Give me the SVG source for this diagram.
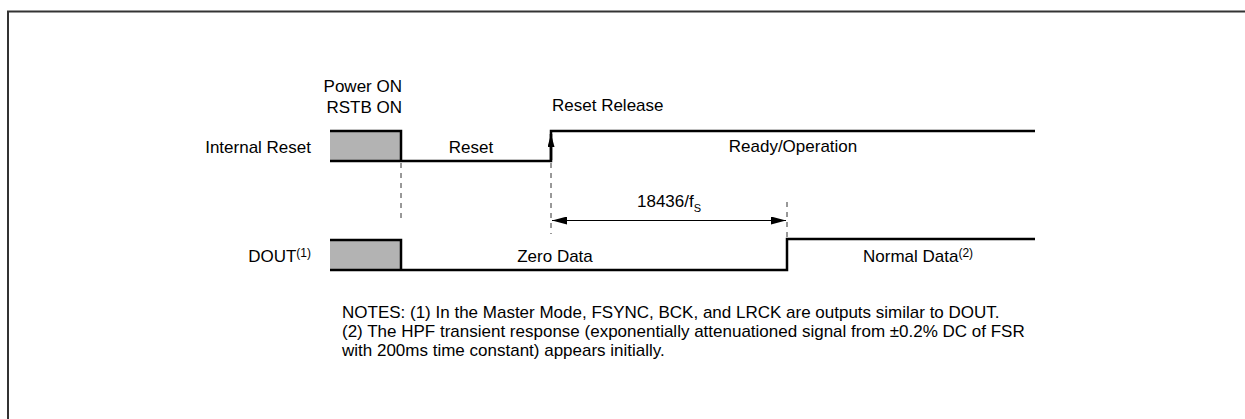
<svg xmlns="http://www.w3.org/2000/svg" width="1245" height="419" viewBox="0 0 1245 419">
<style>
text{font-family:"Liberation Sans",Arial,sans-serif;font-size:17px;fill:#000}
.sig{fill:none;stroke:#000;stroke-width:2.5}
.box{fill:#b3b3b3;stroke:none}
.dash{fill:none;stroke:#333;stroke-width:1;stroke-dasharray:5,5}
.dim{fill:none;stroke:#000;stroke-width:1}
.sup{font-size:12px}
</style>
<defs>
<marker id="ah" viewBox="0 0 15 8" refX="15" refY="4" markerWidth="15" markerHeight="8" markerUnits="userSpaceOnUse" orient="auto-start-reverse">
<path d="M0,0 L15,4 L0,8 Z" fill="#000"/>
</marker>
<marker id="ahs" viewBox="0 0 13 7" refX="13" refY="3.5" markerWidth="13" markerHeight="7" markerUnits="userSpaceOnUse" orient="auto">
<path d="M0,0 L13,3.5 L0,7 Z" fill="#000"/>
</marker>
</defs>
<rect width="1245" height="419" fill="#fff"/>
<path d="M8,419 L8,11.5 L1245,11.5" fill="none" stroke="#333" stroke-width="2"/>

<g id="internal-reset">
<text x="311" y="153" text-anchor="end">Internal Reset</text>
<rect class="box" x="330" y="131" width="71" height="30"/>
<path class="sig" d="M330,131 L401,131 L401,161"/>
<path class="sig" d="M330,161 L551,161 L551,131 L1035,131"/>
<text x="402" y="92" text-anchor="end">Power ON</text>
<text x="402" y="113" text-anchor="end">RSTB ON</text>
<text x="471" y="153" text-anchor="middle">Reset</text>
<text x="552" y="111">Reset Release</text>
<text x="793" y="152" text-anchor="middle">Ready/Operation</text>
</g>

<g id="dout">
<text x="311" y="262" text-anchor="end">DOUT<tspan class="sup" dy="-5">(1)</tspan></text>
<rect class="box" x="330" y="240" width="71" height="30"/>
<path class="sig" d="M330,240 L401,240 L401,270"/>
<path class="sig" d="M330,270 L787,270 L787,239 L1035,239"/>
<text x="555" y="262" text-anchor="middle">Zero Data</text>
<text x="863" y="262">Normal Data<tspan class="sup" dy="-5">(2)</tspan></text>
</g>

<g id="connectors">
<line class="dash" x1="401" y1="163" x2="401" y2="220"/>
<line class="dash" x1="551" y1="163" x2="551" y2="234"/>
<line class="dash" x1="787" y1="202" x2="787" y2="238"/>
<line x1="551" y1="160" x2="551" y2="134" stroke="#000" stroke-width="2.5" marker-end="url(#ahs)"/>
<line class="dim" x1="552" y1="220.5" x2="786" y2="220.5" marker-start="url(#ah)" marker-end="url(#ah)"/>
<text x="637" y="207">18436/f<tspan font-size="11" dy="5">S</tspan></text>
</g>

<g id="notes">
<text x="342" y="318">NOTES: (1) In the Master Mode, FSYNC, BCK, and LRCK are outputs similar to DOUT.</text>
<text x="342" y="337">(2) The HPF transient response (exponentially attenuationed signal from ±0.2% DC of FSR</text>
<text x="342" y="356">with 200ms time constant) appears initially.</text>
</g>
</svg>
